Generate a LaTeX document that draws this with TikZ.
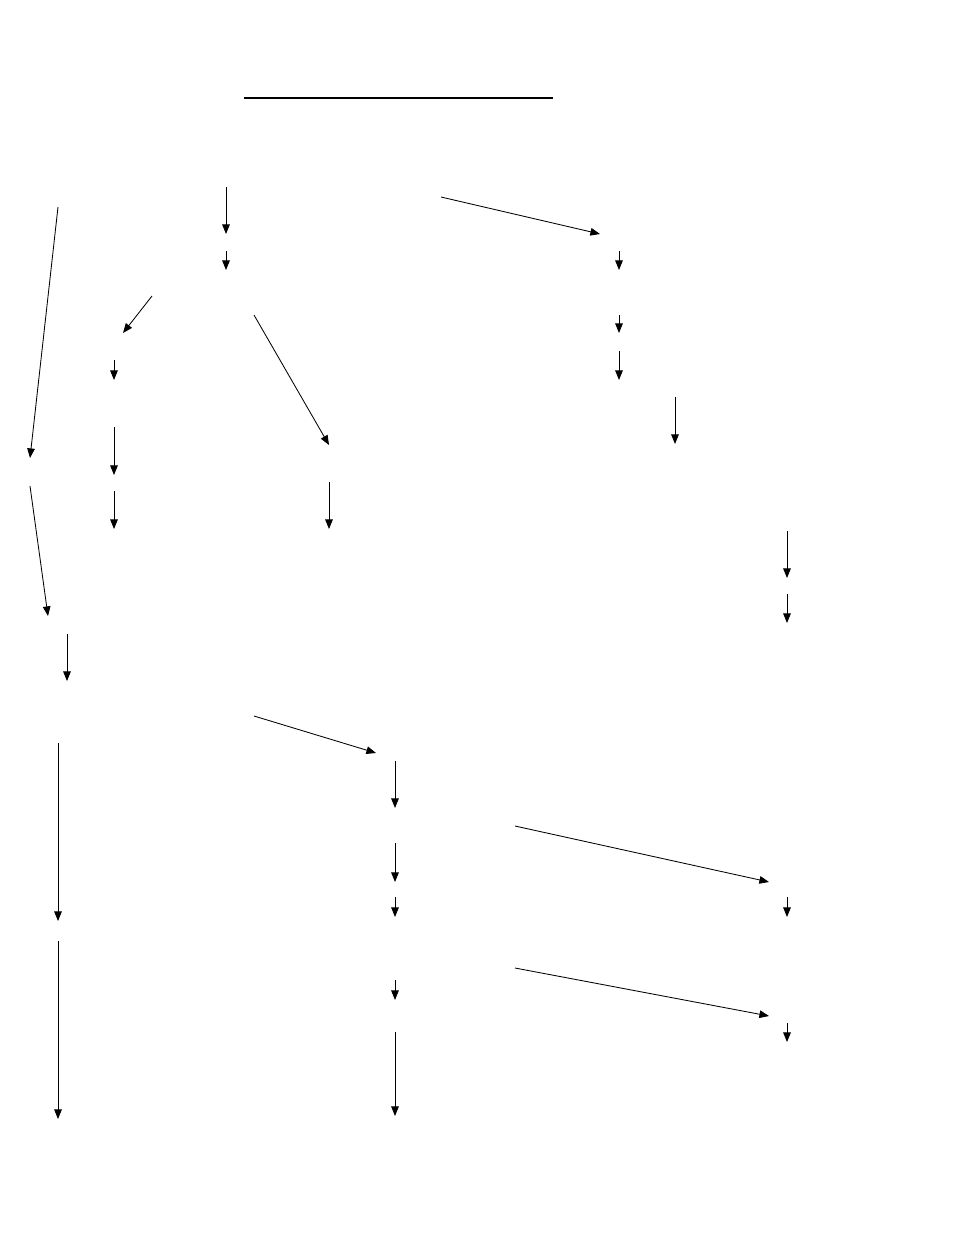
\documentclass[tikz,border=0pt]{standalone}
\usetikzlibrary{arrows.meta}
\begin{document}
\begin{tikzpicture}[
    x=0.25mm, y=-0.25mm,
    arrow/.style={-{Triangle[length=2.4mm,width=1.9mm]}, line width=0.6pt},
    rule/.style={line width=1.6pt}
]
\useasboundingbox (0,0) rectangle (954,1235);

% Title rule
\coordinate (ruleL) at (244,98);
\coordinate (ruleR) at (553,98);
\draw[rule] (ruleL) -- (ruleR);

% Top row
\coordinate (top1s) at (226,187); \coordinate (top1e) at (226,234);
\coordinate (top2s) at (441,197); \coordinate (top2e) at (600,234);
\coordinate (top3s) at (226,251); \coordinate (top3e) at (226,270);
\coordinate (top4s) at (619,251); \coordinate (top4e) at (619,270);

% Left column
\coordinate (left1s) at (58,207);  \coordinate (left1e) at (30,458);
\coordinate (left2s) at (30,486);  \coordinate (left2e) at (48,616);
\coordinate (left3s) at (67,634);  \coordinate (left3e) at (67,681);
\coordinate (left4s) at (58,743);  \coordinate (left4e) at (58,921);
\coordinate (left5s) at (58,941);  \coordinate (left5e) at (58,1119);

% Middle branch
\coordinate (mid1s) at (152,296);  \coordinate (mid1e) at (123,333);
\coordinate (mid2s) at (114,360);  \coordinate (mid2e) at (114,380);
\coordinate (mid3s) at (114,427);  \coordinate (mid3e) at (114,475);
\coordinate (mid4s) at (114,491);  \coordinate (mid4e) at (114,529);
\coordinate (mid5s) at (254,315);  \coordinate (mid5e) at (329,445);
\coordinate (mid6s) at (329,482);  \coordinate (mid6e) at (329,529);

% Right column
\coordinate (right1s) at (619,315); \coordinate (right1e) at (619,333);
\coordinate (right2s) at (619,351); \coordinate (right2e) at (619,380);
\coordinate (right3s) at (675,397); \coordinate (right3e) at (675,444);
\coordinate (right4s) at (787,531); \coordinate (right4e) at (787,578);
\coordinate (right5s) at (787,594); \coordinate (right5e) at (787,623);

% Lower part
\coordinate (low1s) at (254,716);  \coordinate (low1e) at (376,753);
\coordinate (low2s) at (395,761);  \coordinate (low2e) at (395,808);
\coordinate (low3s) at (515,826);  \coordinate (low3e) at (769,882);
\coordinate (low4s) at (395,843);  \coordinate (low4e) at (395,882);
\coordinate (low5s) at (395,897);  \coordinate (low5e) at (395,917);
\coordinate (low6s) at (787,897);  \coordinate (low6e) at (787,917);
\coordinate (low7s) at (515,968);  \coordinate (low7e) at (769,1016);
\coordinate (low8s) at (395,980);  \coordinate (low8e) at (395,1000);
\coordinate (low9s) at (787,1023); \coordinate (low9e) at (787,1042);
\coordinate (low10s) at (395,1032); \coordinate (low10e) at (395,1116);

% Arrows
\draw[arrow] (top1s) -- (top1e);
\draw[arrow] (top2s) -- (top2e);
\draw[arrow] (top3s) -- (top3e);
\draw[arrow] (top4s) -- (top4e);

\draw[arrow] (left1s) -- (left1e);
\draw[arrow] (left2s) -- (left2e);
\draw[arrow] (left3s) -- (left3e);
\draw[arrow] (left4s) -- (left4e);
\draw[arrow] (left5s) -- (left5e);

\draw[arrow] (mid1s) -- (mid1e);
\draw[arrow] (mid2s) -- (mid2e);
\draw[arrow] (mid3s) -- (mid3e);
\draw[arrow] (mid4s) -- (mid4e);
\draw[arrow] (mid5s) -- (mid5e);
\draw[arrow] (mid6s) -- (mid6e);

\draw[arrow] (right1s) -- (right1e);
\draw[arrow] (right2s) -- (right2e);
\draw[arrow] (right3s) -- (right3e);
\draw[arrow] (right4s) -- (right4e);
\draw[arrow] (right5s) -- (right5e);

\draw[arrow] (low1s) -- (low1e);
\draw[arrow] (low2s) -- (low2e);
\draw[arrow] (low3s) -- (low3e);
\draw[arrow] (low4s) -- (low4e);
\draw[arrow] (low5s) -- (low5e);
\draw[arrow] (low6s) -- (low6e);
\draw[arrow] (low7s) -- (low7e);
\draw[arrow] (low8s) -- (low8e);
\draw[arrow] (low9s) -- (low9e);
\draw[arrow] (low10s) -- (low10e);

\end{tikzpicture}
\end{document}
